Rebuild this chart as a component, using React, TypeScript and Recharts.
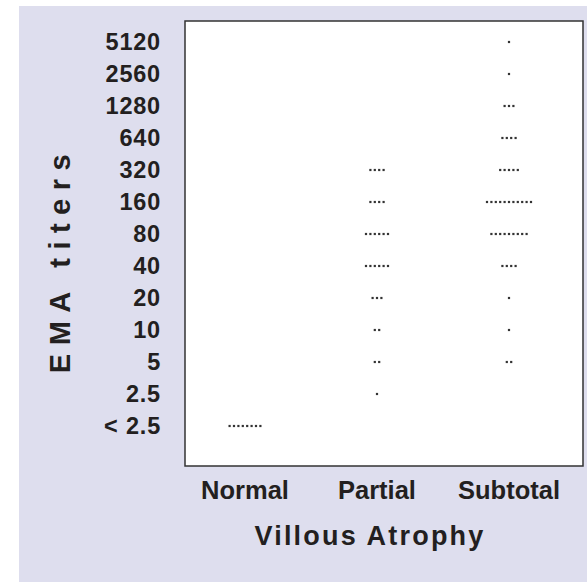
import React from 'react';
import { ScatterChart, Scatter, XAxis, YAxis, CartesianGrid, ReferenceArea } from 'recharts';

const categories = ['Normal', 'Partial', 'Subtotal'];
const titerLabels = ['< 2.5', '2.5', '5', '10', '20', '40', '80', '160', '320', '640', '1280', '2560', '5120'];
const normalCounts = [8, 0, 0, 0, 0, 0, 0, 0, 0, 0, 0, 0, 0];
const partialCounts = [0, 1, 2, 2, 3, 6, 6, 4, 4, 0, 0, 0, 0];
const subtotalCounts = [0, 0, 2, 1, 1, 4, 9, 11, 5, 4, 3, 1, 1];

const countsByGroup = [normalCounts, partialCounts, subtotalCounts];

type Pt = { x: number; y: number; k: number; n: number };
const points: Pt[] = [];
countsByGroup.forEach((counts, g) => {
  counts.forEach((n, t) => {
    for (let k = 0; k < n; k++) points.push({ x: g, y: t, k, n });
  });
});

const FONT = '"Liberation Sans", Arial, Helvetica, sans-serif';
const TEXT = '#231f20';
const DOT_GAP = 4.4;

const DotShape = (props: any) => {
  const { cx, cy, payload } = props;
  if (cx == null || cy == null) return null;
  const off = (payload.k - (payload.n - 1) / 2) * DOT_GAP;
  return <rect x={cx + off - 1.1} y={cy - 1.1} width={2.2} height={2.2} fill="#333" />;
};

const YTick = (props: any) => {
  const { x, y, payload } = props;
  return (
    <text x={x} y={y} dy="0.36em" textAnchor="end" fontSize={23.5} fontWeight="bold" fill={TEXT} fontFamily={FONT} letterSpacing={0.8}>
      {titerLabels[payload.value]}
    </text>
  );
};

const XTick = (props: any) => {
  const { x, y, payload } = props;
  return (
    <text x={x} y={y} dy="0.71em" textAnchor="middle" fontSize={25.5} fontWeight="bold" fill={TEXT} fontFamily={FONT}>
      {categories[payload.value]}
    </text>
  );
};

const YLabel = (props: any) => {
  const vb = props.viewBox || {};
  const cx = (vb.x || 0) + 60;
  const cy = (vb.y || 0) + vb.height / 2 + 16;
  return (
    <text x={cx} y={cy} dy="0.36em" textAnchor="middle" transform={`rotate(-90, ${cx}, ${cy})`} fontSize={29} fontWeight="bold" fill={TEXT} fontFamily={FONT} letterSpacing={8.5}>
      EMA titers
    </text>
  );
};

const XLabel = (props: any) => {
  const vb = props.viewBox || {};
  const cx = (vb.x || 0) + vb.width / 2 - 14;
  const cy = (vb.y || 0) + 79;
  return (
    <text x={cx} y={cy} textAnchor="middle" fontSize={27} fontWeight="bold" fill={TEXT} fontFamily={FONT} letterSpacing={2.2}>
      Villous Atrophy
    </text>
  );
};

const X_DOMAIN: [number, number] = [-0.4545, 2.5606];
const Y_DOMAIN: [number, number] = [-1.25, 12.656];

export default function App() {
  return (
    <div style={{ position: 'absolute', left: 0, top: 0, width: 587, height: 582, background: '#fff' }}>
      <div style={{ position: 'absolute', left: 19, top: 6, width: 568, height: 576, background: '#dedeee' }} />
      <div style={{ position: 'absolute', left: 0, top: 0 }}>
        <ScatterChart width={587} height={582} margin={{ top: 21, right: 4, bottom: 0, left: 0 }}>
          <CartesianGrid fill="#ffffff" horizontal={false} vertical={false} />
          <XAxis
            type="number"
            dataKey="x"
            domain={X_DOMAIN}
            ticks={[0, 1, 2]}
            allowDataOverflow
            axisLine={false}
            tickLine={false}
            tickSize={0}
            tickMargin={15}
            height={116}
            tick={<XTick />}
            label={<XLabel />}
          />
          <YAxis
            type="number"
            dataKey="y"
            domain={Y_DOMAIN}
            ticks={titerLabels.map((_, i) => i)}
            allowDataOverflow
            axisLine={false}
            tickLine={false}
            tickSize={0}
            tickMargin={24}
            width={185}
            interval={0}
            tick={<YTick />}
            label={<YLabel />}
          />
          <ReferenceArea x1={X_DOMAIN[0]} x2={X_DOMAIN[1]} y1={Y_DOMAIN[0]} y2={Y_DOMAIN[1]} fill="none" stroke="#333" strokeWidth={1.5} ifOverflow="visible" />
          <Scatter data={points} shape={<DotShape />} isAnimationActive={false} />
        </ScatterChart>
      </div>
    </div>
  );
}
